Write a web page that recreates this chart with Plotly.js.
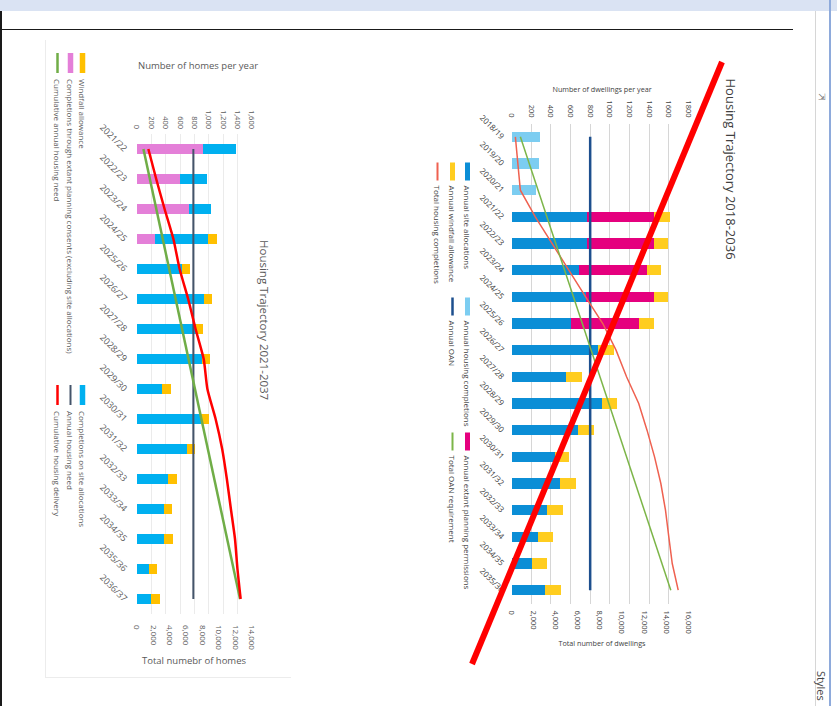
<!DOCTYPE html>
<html><head><meta charset="utf-8">
<script src="https://cdn.plot.ly/plotly-3.0.1.min.js"></script>
<style>
html,body{margin:0;padding:0;background:#fff;}
body{width:837px;height:706px;position:relative;overflow:hidden;font-family:"Open Sans",sans-serif;}
.abs{position:absolute;}
.chart{position:absolute;transform:rotate(90deg);transform-origin:50% 50%;}
</style></head><body>
<div class="abs" style="left:0;top:0;width:837px;height:11px;background:#dae3f3;"></div>
<div class="abs" style="left:0;top:11px;width:1.5px;height:695px;background:#1a1a1a;"></div>
<div class="abs" style="left:0;top:28.5px;width:793px;height:1.5px;background:#1a1a1a;"></div>
<div class="abs" style="left:814.5px;top:11px;width:1.5px;height:695px;background:#d6d6d6;"></div>
<div class="abs" style="left:829px;top:0;width:1.5px;height:706px;background:#8eaadb;"></div>
<div class="abs" style="left:45px;top:40px;width:245px;height:637px;border-left:1px solid #ececec;border-bottom:1px solid #ececec;"></div>
<div class="abs" style="left:818px;top:92px;font-family:'DejaVu Sans';font-size:9px;color:#777;">&#8690;</div>
<div class="abs" style="left:814px;top:671px;writing-mode:vertical-rl;font-family:'Open Sans';font-size:11px;color:#444;">Styles</div>
<div id="c1" class="chart"></div>
<div id="c2" class="chart"></div>
<div id="slash" class="abs" style="left:0;top:0;width:837px;height:706px;pointer-events:none;"></div>
<script>
// ---------- Chart 1: Housing Trajectory 2021-2037 ----------
const cats1 = ['2021/22','2022/23','2023/24','2024/25','2025/26','2026/27','2027/28','2028/29','2029/30','2030/31','2031/32','2032/33','2033/34','2034/35','2035/36','2036/37'];
const extant1 = [917, 604, 721, 253, null, null, null, null, null, null, null, null, null, null, null, null];
const site1 = [459, 365, 304, 739, 627, 932, 814, 908, 346, 885, 697, 431, 370, 370, 164, 197];
const windfall1 = [null, null, null, 117, 117, 116, 110, 108, 125, 116, 110, 125, 117, 128, 121, 125];
const annualNeed1 = [784, 784, 784, 784, 784, 784, 784, 784, 784, 784, 784, 784, 784, 784, 784, 784];
const cumNeed1 = [784, 1568, 2352, 3136, 3920, 4704, 5488, 6272, 7056, 7840, 8624, 9408, 10192, 10976, 11760, 12544];
const cumDelivery1 = [1380, 2340, 3360, 4430, 5190, 6230, 7130, 8120, 8570, 9570, 10370, 10940, 11430, 11930, 12230, 12620];
const names1 = ['Completions through extant planning consents (excluding site allocations)', 'Completions on site allocations', 'Windfall allowance', 'Annual housing need', 'Cumulative annual housing need', 'Cumulative housing delivery'];
const title1 = 'Housing Trajectory 2021-2037';
const yTitle1 = 'Number of homes per year';
const y2Title1 = 'Total numebr of homes';

// ---------- Chart 2: Housing Trajectory 2018-2036 ----------
const cats2 = ['2018/19','2019/20','2020/21','2021/22','2022/23','2023/24','2024/25','2025/26','2026/27','2027/28','2028/29','2029/30','2030/31','2031/32','2032/33','2033/34','2034/35','2035/36'];
const completions2 = [288, 278, 247, null, null, null, null, null, null, null, null, null, null, null, null, null, null, null];
const site2 = [null, null, null, 763, 763, 689, 757, 604, 882, 553, 923, 679, 441, 492, 366, 272, 211, 339];
const extant2 = [null, null, null, 689, 686, 692, 692, 692, null, null, null, null, null, null, null, null, null, null];
const windfall2 = [null, null, null, 158, 140, 140, 146, 153, 159, 160, 153, 165, 146, 160, 160, 152, 155, 160];
const oan2 = [800, 800, 800, 800, 800, 800, 800, 800, 800, 800, 800, 800, 800, 800, 800, 800, 800, 800];
const totalOan2 = [800, 1600, 2400, 3200, 4000, 4800, 5600, 6400, 7200, 8000, 8800, 9600, 10400, 11200, 12000, 12800, 13600, 14400];
const totalCompletions2 = [350, 580, 800, 2150, 3650, 5150, 6700, 8250, 9450, 10400, 11500, 12250, 12930, 13500, 13920, 14220, 14530, 15070];
const names2 = ['Annual housing completions', 'Annual site allocations', 'Annual extant planning permissions', 'Annual windfall allowance', 'Annual OAN', 'Total housing completions', 'Total OAN requirement'];
const title2 = 'Housing Trajectory 2018-2036';
const yTitle2 = 'Number of dwellings per year';
const y2Title2 = 'Total number of dwellings';

// ---------- geometry helpers (chart drawn unrotated then turned 90deg clockwise) ----------
function geom(c){
  c.W = c.box.Y1 - c.box.Y0; c.H = c.box.X1 - c.box.X0;
  c.pw = c.W - c.m.l - c.m.r; c.ph = c.H - c.m.t - c.m.b;
  return c;
}
function place(id, c){
  const d = document.getElementById(id);
  const cx = (c.box.X0 + c.box.X1)/2, cy = (c.box.Y0 + c.box.Y1)/2;
  d.style.left = (cx - c.W/2) + 'px'; d.style.top = (cy - c.H/2) + 'px';
  d.style.width = c.W + 'px'; d.style.height = c.H + 'px';
  return d;
}
function P(c, u, v){ return [(u - c.m.l)/c.pw, (c.m.t + c.ph - v)/c.ph]; }
function txt(c, u, v, text, size, color, angle, xa){
  const p = P(c, u, v);
  return {xref:'paper', yref:'paper', x:p[0], y:p[1], text:text, showarrow:false,
    textangle: angle||0, xanchor: xa||'center', yanchor:'middle',
    font:{size:size, color:color, family:c.font}};
}
function legend(c, items){
  const shapes = [], ann = [];
  items.forEach(it => {
    const u0 = c.leg.colU[it.col], v = c.leg.rowV[it.row];
    const a = P(c, u0, v), b = P(c, u0 + c.leg.sw, v);
    if (it.kind === 'bar') {
      const t = P(c, u0, v - c.leg.th/2), bt = P(c, u0, v + c.leg.th/2);
      shapes.push({type:'rect', xref:'paper', yref:'paper', x0:a[0], x1:b[0], y0:bt[1], y1:t[1], fillcolor:it.color, line:{width:0}});
    } else {
      shapes.push({type:'line', xref:'paper', yref:'paper', x0:a[0], x1:b[0], y0:a[1], y1:a[1], line:{color:it.color, width:it.width}});
    }
    ann.push(txt(c, u0 + c.leg.tx, v, it.name, c.leg.size, c.color, 0, 'left'));
  });
  return {shapes, ann};
}

// ---------- Chart 1 ----------
const C1 = geom({box:{X0:40, X1:290, Y0:40, Y1:690}, m:{l:94, r:76, t:38, b:97}, font:'Open Sans', color:'#595959',
  leg:{colU:[13, 345], rowV:[207.5, 219.5, 232.5], sw:20, tx:24, th:5.5, size:8}});
const col1 = {extant:'#e47fd8', site:'#00b0f0', wind:'#ffc000', need:'#44546a', cumNeed:'#70ad47', cumDel:'#ff0000'};
const tr1 = [
  {type:'bar', name:names1[0], x:cats1, y:extant1, marker:{color:col1.extant}},
  {type:'bar', name:names1[1], x:cats1, y:site1, marker:{color:col1.site}},
  {type:'bar', name:names1[2], x:cats1, y:windfall1, marker:{color:col1.wind}},
  {type:'scatter', mode:'lines', name:names1[3], x:cats1, y:annualNeed1, line:{color:col1.need, width:2}},
  {type:'scatter', mode:'lines', name:names1[4], x:cats1, y:cumNeed1, yaxis:'y2', line:{color:col1.cumNeed, width:2.5}},
  {type:'scatter', mode:'lines', name:names1[5], x:cats1, y:cumDelivery1, yaxis:'y2', line:{color:col1.cumDel, width:2.5, shape:'spline', smoothing:0.6}}
];
const lg1 = legend(C1, [
  {name:names1[2], color:col1.wind, kind:'bar', col:0, row:0},
  {name:names1[0], color:col1.extant, kind:'bar', col:0, row:1},
  {name:names1[4], color:col1.cumNeed, kind:'line', width:2.5, col:0, row:2},
  {name:names1[1], color:col1.site, kind:'bar', col:1, row:0},
  {name:names1[3], color:col1.need, kind:'line', width:2, col:1, row:1},
  {name:names1[5], color:col1.cumDel, kind:'line', width:2.5, col:1, row:2}
]);
const tf1 = {size:7.5, color:C1.color, family:C1.font};
const L1 = {
  width:C1.W, height:C1.H, margin:{l:C1.m.l, r:C1.m.r, t:C1.m.t, b:C1.m.b, pad:0},
  paper_bgcolor:'rgba(0,0,0,0)', plot_bgcolor:'rgba(0,0,0,0)', showlegend:false, hovermode:false,
  barmode:'stack', bargap:0.64, font:{family:C1.font, color:C1.color},
  xaxis:{type:'category', tickangle:-45, tickfont:{size:9, color:C1.color, family:C1.font}, showgrid:false, showline:false, ticks:'', ticklabelstandoff:5},
  yaxis:{range:[0,1600], dtick:200, tickformat:',', tickfont:tf1, showgrid:true, gridcolor:'#ebebeb', gridwidth:1, zeroline:false, showline:false, ticks:'', ticklabelstandoff:4},
  yaxis2:{range:[0,14000], dtick:2000, tickformat:',', tickfont:{size:8, color:C1.color, family:C1.font}, overlaying:'y', side:'right', showgrid:false, zeroline:false, showline:false, ticks:'', ticklabelstandoff:10},
  shapes:lg1.shapes,
  annotations:[
    txt(C1, 280, 26, title1, 11.5, C1.color),
    txt(C1, 25, 92, yTitle1, 9.5, C1.color, -90),
    txt(C1, 620, 96, y2Title1, 9.5, C1.color, -90)
  ].concat(lg1.ann)
};
place('c1', C1);
Plotly.newPlot('c1', tr1, L1, {staticPlot:true, displayModeBar:false});

// ---------- Chart 2 ----------
const C2 = geom({box:{X0:415, X1:750, Y0:40, Y1:690}, m:{l:83, r:87, t:62, b:96}, font:'Open Sans', color:'#404040',
  leg:{colU:[122, 257, 392], rowV:[283, 298, 313], sw:18, tx:21, th:5, size:8}});
const col2 = {comp:'#7ccdf1', site:'#0b8ed6', extant:'#e5007e', wind:'#ffcd1f', oan:'#1d4f8e', totComp:'#ef6150', totOan:'#7cb548'};
const tr2 = [
  {type:'bar', name:names2[0], x:cats2, y:completions2, marker:{color:col2.comp}},
  {type:'bar', name:names2[1], x:cats2, y:site2, marker:{color:col2.site}},
  {type:'bar', name:names2[2], x:cats2, y:extant2, marker:{color:col2.extant}},
  {type:'bar', name:names2[3], x:cats2, y:windfall2, marker:{color:col2.wind}},
  {type:'scatter', mode:'lines', name:names2[4], x:cats2, y:oan2, line:{color:col2.oan, width:2.5}},
  {type:'scatter', mode:'lines', name:names2[5], x:cats2, y:totalCompletions2, yaxis:'y2', line:{color:col2.totComp, width:1.5}},
  {type:'scatter', mode:'lines', name:names2[6], x:cats2, y:totalOan2, yaxis:'y2', line:{color:col2.totOan, width:1.5}}
];
const lg2 = legend(C2, [
  {name:names2[1], color:col2.site, kind:'bar', col:0, row:0},
  {name:names2[3], color:col2.wind, kind:'bar', col:0, row:1},
  {name:names2[5], color:col2.totComp, kind:'line', width:2, col:0, row:2},
  {name:names2[0], color:col2.comp, kind:'bar', col:1, row:0},
  {name:names2[4], color:col2.oan, kind:'line', width:2.5, col:1, row:1},
  {name:names2[2], color:col2.extant, kind:'bar', col:2, row:0},
  {name:names2[6], color:col2.totOan, kind:'line', width:2, col:2, row:1}
]);
const tf2 = {size:7.5, color:C2.color, family:C2.font};
const L2 = {
  width:C2.W, height:C2.H, margin:{l:C2.m.l, r:C2.m.r, t:C2.m.t, b:C2.m.b, pad:0},
  paper_bgcolor:'rgba(0,0,0,0)', plot_bgcolor:'rgba(0,0,0,0)', showlegend:false, hovermode:false,
  barmode:'stack', bargap:0.61, font:{family:C2.font, color:C2.color},
  xaxis:{type:'category', tickangle:-45, tickfont:{size:8, color:C2.color, family:C2.font}, showgrid:false, showline:false, ticks:'', ticklabelstandoff:3},
  yaxis:{range:[0,1800], dtick:200, tickformat:'d', tickfont:tf2, showgrid:true, gridcolor:'#d6d6d6', gridwidth:1.3, zeroline:false, showline:false, ticks:'', ticklabelstandoff:5},
  yaxis2:{range:[0,16000], dtick:2000, tickformat:',', tickfont:tf2, overlaying:'y', side:'right', showgrid:false, zeroline:false, showline:false, ticks:'', ticklabelstandoff:6},
  shapes:lg2.shapes,
  annotations:[
    txt(C2, 128.5, 20, title2, 13, C2.color),
    txt(C2, 48, 149, yTitle2, 7.2, C2.color, -90),
    txt(C2, 602, 148, y2Title2, 7.2, C2.color, -90)
  ].concat(lg2.ann)
};
place('c2', C2);
Plotly.newPlot('c2', tr2, L2, {staticPlot:true, displayModeBar:false});

// ---------- red cross-out stroke over chart 2 ----------
Plotly.newPlot('slash', [], {
  width:837, height:706, margin:{l:0, r:0, t:0, b:0, pad:0},
  paper_bgcolor:'rgba(0,0,0,0)', plot_bgcolor:'rgba(0,0,0,0)', showlegend:false, hovermode:false,
  xaxis:{range:[0,837], visible:false, fixedrange:true},
  yaxis:{range:[706,0], visible:false, fixedrange:true},
  shapes:[{type:'line', xref:'x', yref:'y', x0:722, y0:62, x1:472, y1:664, line:{color:'#ff0000', width:6}}]
}, {staticPlot:true, displayModeBar:false});
</script>
</body></html>
